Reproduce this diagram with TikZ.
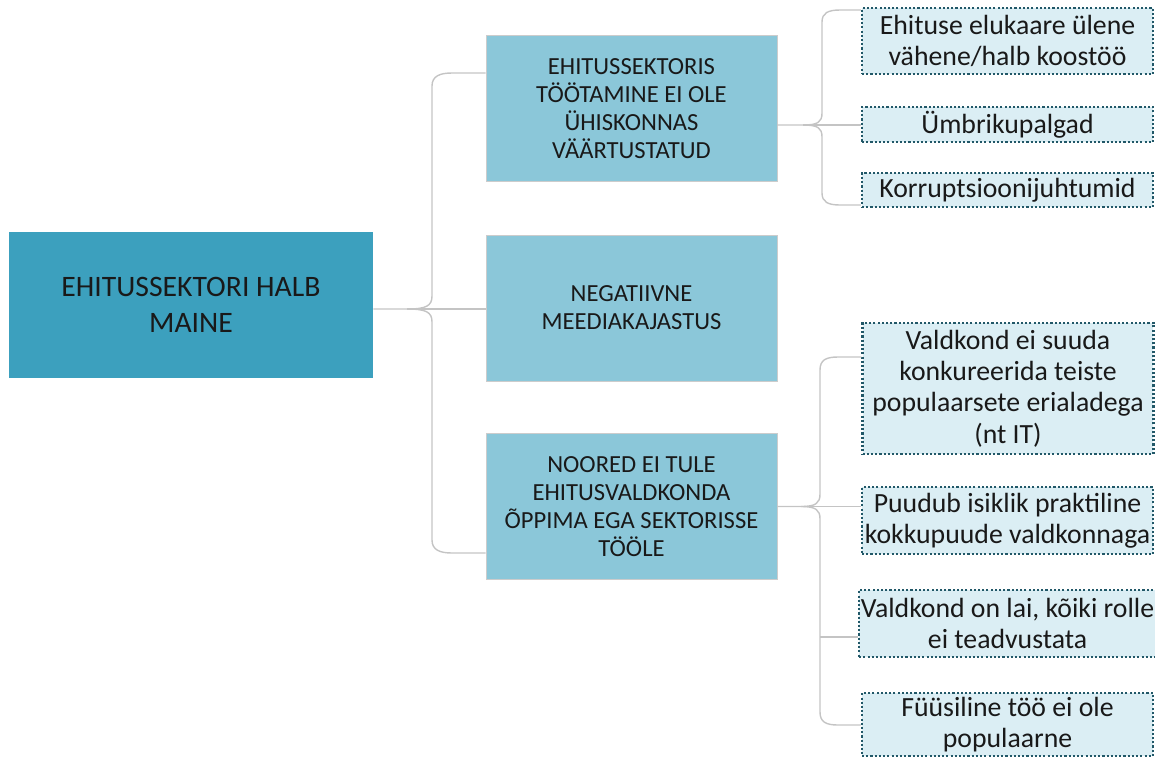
\documentclass[tikz,border=0pt]{standalone}
\usepackage{fontspec}
\setmainfont{Carlito}
\usetikzlibrary{positioning}

\definecolor{rootblue}{HTML}{3CA0BE}
\definecolor{midblue}{HTML}{8BC7D9}
\definecolor{leafblue}{HTML}{DBEEF4}
\definecolor{leafedge}{HTML}{215868}
\definecolor{linkgrey}{HTML}{C4C4C4}

\begin{document}
\begin{tikzpicture}[x=0.02cm, y=-0.02cm]

        % Setup the styles for the boxes and brackets
        \tikzset{root style/.style={rectangle, fill=rootblue, draw=none,
                                    minimum width=7.28cm, minimum height=2.92cm,
                                    align=center, text=black!90,
                                    font=\fontsize{16.9}{20.8}\selectfont},
                 mid style/.style={rectangle, fill=midblue, draw=black!20,
                                   line width=0.5pt,
                                   minimum width=5.82cm, minimum height=2.92cm,
                                   align=center, text=black!90,
                                   font=\fontsize{14}{15.9}\selectfont},
                 leaf style/.style={rectangle, fill=leafblue, draw=leafedge,
                                    line width=1.4pt,
                                    dash pattern=on 1.2pt off 1.2pt,
                                    minimum width=5.82cm, inner sep=1pt,
                                    align=center, text=black!90,
                                    font=\fontsize{15.8}{17.8}\selectfont},
                 link/.style={draw=linkgrey, line width=0.8pt}}

        \useasboundingbox (0,0) rectangle (1155,758);

        % Draw the main box and the three causes
        \node[root style] at (191, 305)    (root)  {EHITUSSEKTORI HALB\\MAINE};
        \node[mid style]  at (631.5, 108.5) (box1) {EHITUSSEKTORIS\\TÖÖTAMINE EI OLE\\ÜHISKONNAS\\VÄÄRTUSTATUD};
        \node[mid style]  at (631.5, 308)  (box2)  {NEGATIIVNE\\MEEDIAKAJASTUS};
        \node[mid style]  at (631.5, 506.5) (box3) {NOORED EI TULE\\EHITUSVALDKONDA\\ÕPPIMA EGA SEKTORISSE\\TÖÖLE};

        % Draw the dotted detail boxes
        \node[leaf style, minimum height=1.32cm] at (1007.5, 41)    (L1) {Ehituse elukaare ülene\\vähene/halb koostöö};
        \node[leaf style, minimum height=0.70cm] at (1007.5, 124.5) (L2) {Ümbrikupalgad};
        \node[leaf style, minimum height=0.68cm] at (1007.5, 190)   (L3) {Korruptsioonijuhtumid};

        \node[leaf style, minimum height=2.62cm] at (1008, 388.5)   (M1) {Valdkond ei suuda\\konkureerida teiste\\populaarsete erialadega\\(nt IT)};
        \node[leaf style, minimum height=1.34cm] at (1007.5, 520.5) (M2) {Puudub isiklik praktiline\\kokkupuude valdkonnaga};
        \node[leaf style, minimum height=1.34cm] at (1007.5, 623.5) (M3) {Valdkond on lai, kõiki rolle\\ei teadvustata};
        \node[leaf style, minimum height=1.26cm] at (1007.5, 724.5) (M4) {Füüsiline töö ei ole\\populaarne};

        % Bracket tips
        \coordinate (tipL) at (407, 309);
        \coordinate (tipA) at (803, 125);
        \coordinate (tipB) at (801, 506.5);

        % Connect the main box with the causes
        \draw[link] (root.east |- tipL) -- (tipL)
            .. controls (426,309) and (432,306) .. (432,296) -- (432,86)
            .. controls (432,76) and (440,73) .. (452,73) -- (box1.west |- 0,73);
        \draw[link] (tipL)
            .. controls (426,309) and (432,312) .. (432,322) -- (432,540)
            .. controls (432,550) and (440,553) .. (452,553) -- (box3.west |- 0,553);
        \draw[link] (tipL) -- (box2.west |- tipL);

        % Connect the first cause with its details
        \draw[link] (box1.east |- tipA) -- (tipA)
            .. controls (818,125) and (822,122) .. (822,113) -- (822,22)
            .. controls (822,13) and (828,10) .. (840,10) -- (L1.west |- 0,10);
        \draw[link] (tipA)
            .. controls (818,125) and (822,128) .. (822,137) -- (822,193)
            .. controls (822,202) and (828,205) .. (840,205) -- (L3.west |- 0,205);
        \draw[link] (tipA) -- (L2.west |- tipA);

        % Connect the third cause with its details
        \draw[link] (box3.east) -- (tipB)
            .. controls (816,506.5) and (820,503) .. (820,494) -- (820,370)
            .. controls (820,360) and (826,357) .. (838,357) -- (M1.west |- 0,357);
        \draw[link] (tipB)
            .. controls (816,506.5) and (820,510) .. (820,519) -- (820,712)
            .. controls (820,722) and (826,725) .. (838,725) -- (M4.west |- 0,725);
        \draw[link] (tipB) -- (M2.west |- tipB);
        \draw[link] (820,637) -- (M3.west |- 0,637);
    \end{tikzpicture}
\end{document}
